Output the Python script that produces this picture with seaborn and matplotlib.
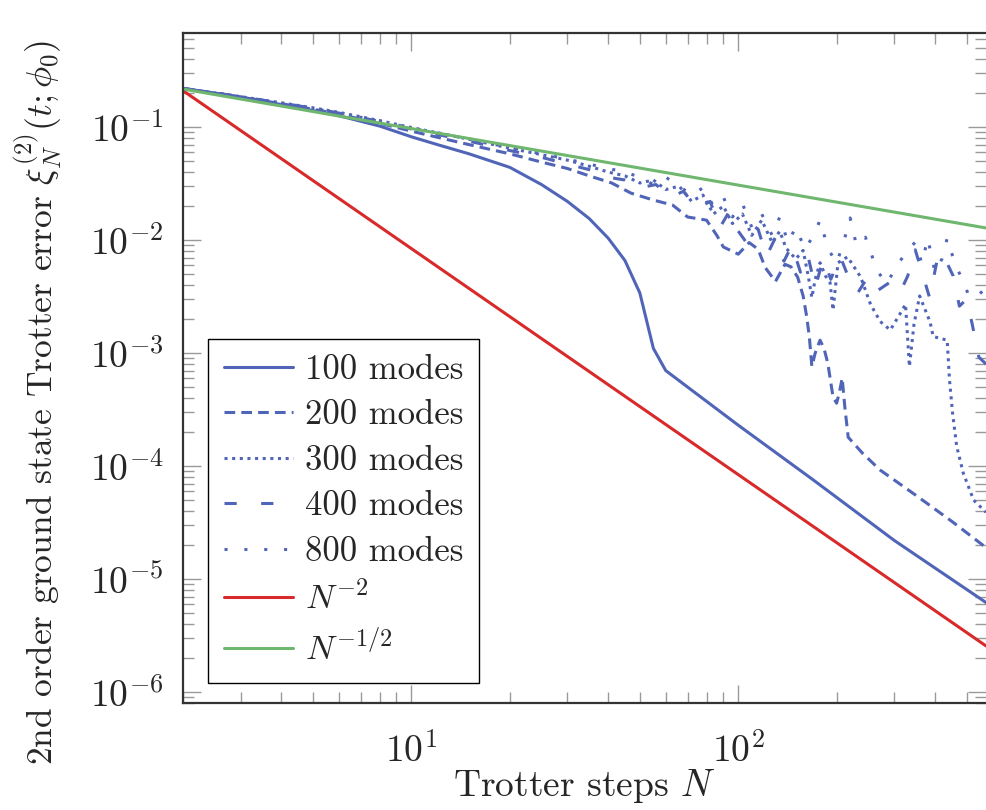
import numpy as np
import pandas as pd
import seaborn as sns
import matplotlib.pyplot as plt
from matplotlib.ticker import LogLocator, NullFormatter, LogFormatterMathtext

# Trotter steps and errors
n_100 = [2, 3, 4, 5, 6, 8, 10, 12, 15, 20, 25, 30, 35, 40, 45, 50, 55, 60, 70, 100, 169, 300, 573]
err_100 = [0.22, 0.185, 0.158, 0.14, 0.126, 0.102, 0.082, 0.07, 0.058, 0.044, 0.031, 0.022, 0.0155,
           0.0104, 0.0066, 0.0034, 0.0011, 7.0e-4, 5.0e-4, 2.3e-4, 7.6e-5, 2.2e-5, 6.2e-6]

n_200 = [2, 3, 4, 5, 6, 8, 10, 13, 16, 20, 25, 30, 35, 41, 47, 55, 63, 70, 80, 86, 90, 100, 108,
         115, 121, 130, 139, 145, 152, 158, 162, 165, 168, 172, 178, 183, 188, 195, 200, 204, 208,
         212, 217, 240, 272, 350, 453, 573]
err_200 = [0.22, 0.184, 0.161, 0.144, 0.13, 0.108, 0.092, 0.077, 0.067, 0.058, 0.049, 0.043, 0.037,
           0.032, 0.026, 0.0226, 0.0204, 0.016, 0.015, 0.011, 0.0087, 0.0075, 0.0095, 0.0083,
           0.0057, 0.0043, 0.0061, 0.0058, 0.0047, 0.0032, 0.0021, 0.0014, 7.6e-4, 1.0e-3, 1.3e-3,
           1.1e-3, 8.1e-4, 4.1e-4, 3.6e-4, 4.5e-4, 6.0e-4, 3.3e-4, 1.8e-4, 1.3e-4, 9.2e-5, 5.5e-5,
           3.2e-5, 1.9e-5]

n_300 = [2, 3, 4, 5, 6, 8, 10, 13, 16, 20, 25, 30, 35, 40, 45, 50, 55, 60, 66, 72, 78, 84, 90, 96,
         103, 110, 118, 127, 134, 140, 150, 158, 164, 168, 172, 178, 185, 191, 195, 202, 216, 237,
         254, 272, 292, 312, 325, 334, 345, 359, 386, 395, 436, 443, 453, 466, 488, 525, 573]
err_300 = [0.22, 0.186, 0.164, 0.148, 0.135, 0.114, 0.099, 0.085, 0.075, 0.065, 0.057, 0.051, 0.045,
           0.04, 0.037, 0.032, 0.034, 0.028, 0.03, 0.022, 0.025, 0.017, 0.02, 0.014, 0.017, 0.011,
           0.015, 0.0095, 0.012, 0.0085, 0.0068, 0.0081, 0.0047, 0.0031, 0.0045, 0.0063, 0.0048,
           0.0042, 0.0024, 0.0063, 0.0071, 0.0047, 0.0027, 0.0019, 0.0016, 0.0022, 0.0027, 7.6e-4,
           0.0018, 0.0032, 0.0019, 0.0014, 0.0013, 5.8e-4, 2.9e-4, 1.5e-4, 8.7e-5, 5.0e-5, 3.9e-5]

n_400 = [2, 3, 4, 5, 6, 8, 10, 13, 16, 20, 25, 30, 35, 40, 45, 50, 56, 62, 68, 75, 82, 88, 94, 100,
         108, 115, 122, 130, 138, 146, 155, 163, 172, 182, 192, 205, 218, 232, 250, 268, 290, 312,
         330, 348, 365, 385, 410, 436, 455, 475, 500, 520, 545, 573]
err_400 = [0.22, 0.186, 0.163, 0.147, 0.133, 0.112, 0.096, 0.082, 0.072, 0.062, 0.054, 0.047, 0.042,
           0.036, 0.034, 0.029, 0.031, 0.024, 0.027, 0.019, 0.022, 0.013, 0.018, 0.012, 0.0088,
           0.0125, 0.0072, 0.0105, 0.0065, 0.009, 0.0052, 0.0075, 0.0038, 0.0068, 0.0045, 0.0072,
           0.0046, 0.0034, 0.0048, 0.0036, 0.0042, 0.0034, 0.0048, 0.0082, 0.0052, 0.0031, 0.0076,
           0.0062, 0.0048, 0.0026, 0.003, 0.0018, 9.2e-4, 8.0e-4]

n_800 = [2, 3, 4, 5, 6, 8, 10, 13, 16, 20, 25, 30, 35, 40, 45, 50, 55, 60, 66, 72, 78, 84, 90, 96,
         103, 110, 118, 127, 134, 142, 150, 160, 170, 178, 188, 200, 212, 220, 230, 245, 260, 268,
         285, 300, 320, 348, 365, 380, 400, 420, 436, 460, 490, 510, 540, 573]
err_800 = [0.22, 0.185, 0.162, 0.146, 0.133, 0.113, 0.098, 0.085, 0.075, 0.066, 0.058, 0.052, 0.047,
           0.043, 0.04, 0.036, 0.031, 0.036, 0.03, 0.025, 0.029, 0.02, 0.024, 0.016, 0.021, 0.013,
           0.017, 0.011, 0.016, 0.0095, 0.013, 0.0083, 0.011, 0.015, 0.0085, 0.0062, 0.0105, 0.0157,
           0.009, 0.0106, 0.0065, 0.0052, 0.0041, 0.0054, 0.0072, 0.0096, 0.0062, 0.0104, 0.0052,
           0.0068, 0.0104, 0.0062, 0.0042, 0.0031, 0.0032, 0.0038]

# reference slopes, endpoints only (straight lines on log-log axes)
n_ref = [2, 573]
ref_n2 = [0.21, 2.56e-6]
ref_nhalf = [0.217, 0.0128]

blue = '#5165b8'
red = '#d82a2a'
green = '#6fb66f'

sns.set_theme(style='ticks')
plt.rcParams['font.family'] = ['cmr10', 'DejaVu Serif']
plt.rcParams['mathtext.fontset'] = 'cm'
plt.rcParams['axes.formatter.use_mathtext'] = True

fig = plt.figure(figsize=(9.86, 8.10), dpi=100)
ax = fig.add_axes([183 / 986, 107 / 810, 1 - 183 / 986, 670 / 810])

series = [
    (n_100, err_100, '100 modes', '-'),
    (n_200, err_200, '200 modes', (0, (3.5, 2))),
    (n_300, err_300, '300 modes', (0, (1, 1.5))),
    (n_400, err_400, '400 modes', (0, (4, 8))),
    (n_800, err_800, '800 modes', (0, (1, 5.5))),
]
for n, err, lab, ls in series:
    sns.lineplot(x=n, y=err, ax=ax, color=blue, lw=2.2, linestyle=ls, label=lab)

sns.lineplot(x=n_ref, y=ref_n2, ax=ax, color=red, lw=2.2, label=r'$N^{-2}$')
sns.lineplot(x=n_ref, y=ref_nhalf, ax=ax, color=green, lw=2.2, label=r'$N^{-1/2}$')

ax.set_xscale('log')
ax.set_yscale('log')
ax.set_xlim(2, 573)
ax.set_ylim(8e-7, 0.68)

ax.xaxis.set_major_locator(LogLocator(base=10, numticks=20))
ax.yaxis.set_major_locator(LogLocator(base=10, numticks=20))
ax.xaxis.set_minor_locator(LogLocator(base=10, subs=np.arange(2, 10), numticks=100))
ax.yaxis.set_minor_locator(LogLocator(base=10, subs=np.arange(2, 10), numticks=100))
ax.xaxis.set_minor_formatter(NullFormatter())
ax.yaxis.set_minor_formatter(NullFormatter())
ax.xaxis.set_major_formatter(LogFormatterMathtext())
ax.yaxis.set_major_formatter(LogFormatterMathtext())

ax.tick_params(which='both', direction='in', top=True, right=True, color='#999999', width=1)
ax.tick_params(which='major', length=13, labelsize=27, pad=14)
ax.tick_params(which='minor', length=8)
ax.tick_params(axis='x', which='major', pad=21)

for side in ['left', 'top', 'bottom']:
    ax.spines[side].set_color('#333333')
    ax.spines[side].set_linewidth(1.6)
ax.spines['right'].set_visible(False)

ax.set_xlabel(r'Trotter steps $N$', fontsize=27, labelpad=-2)
ax.set_ylabel(r'2nd order ground state Trotter error $\xi_N^{(2)}(t;\phi_0)$', fontsize=25.5)
ax.yaxis.set_label_coords(-0.148, 0.449)

leg = ax.legend(loc='lower left', bbox_to_anchor=(0.031, 0.03), fontsize=25, frameon=True,
                fancybox=False, edgecolor='black', framealpha=1, handlelength=2.0,
                handletextpad=0.35, labelspacing=0.4, borderpad=0.45, borderaxespad=0)
leg.get_frame().set_linewidth(1.0)

plt.savefig('out.png', dpi=100)
